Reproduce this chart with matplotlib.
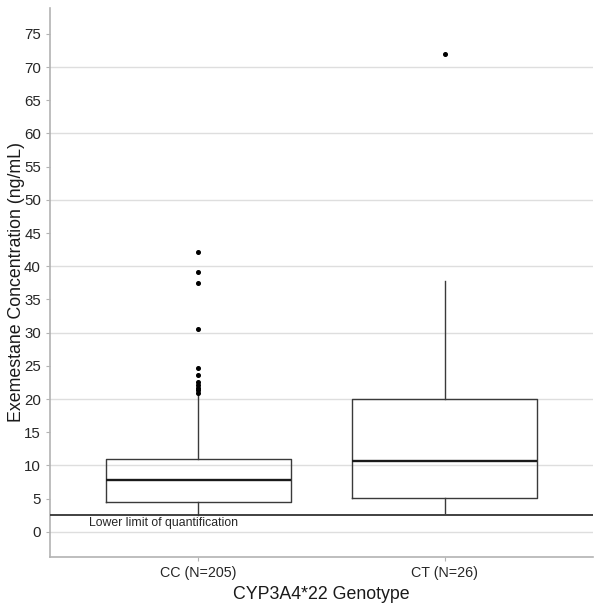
import matplotlib
matplotlib.use("Agg")
import matplotlib.pyplot as plt

plt.rcParams['font.family'] = ['Liberation Sans', 'DejaVu Sans']

# Box summary statistics (ng/mL)
groups = ["CC (N=205)", "CT (N=26)"]
q1 = [4.5, 5.1]
median = [7.8, 10.6]
q3 = [11.0, 20.0]
whisker_low = [2.6, 2.8]
whisker_high = [20.5, 37.8]
outliers = [
    [42.2, 39.1, 37.5, 30.5, 24.6, 23.6, 22.5, 22.1, 21.7, 21.3, 20.9],
    [72.0],
]
lloq = 2.5
yticks = list(range(0, 80, 5))

stats = []
for i in range(len(groups)):
    stats.append({
        "label": groups[i],
        "q1": q1[i],
        "med": median[i],
        "q3": q3[i],
        "whislo": whisker_low[i],
        "whishi": whisker_high[i],
        "fliers": outliers[i],
    })

fig = plt.figure(figsize=(6.02, 6.10), dpi=100)
ax = fig.add_axes([50 / 602, 53 / 610, 543 / 602, 549 / 610])

box_col = "#3a3a3a"
ax.bxp(stats, positions=[1, 2], widths=0.75, showcaps=False,
       boxprops=dict(color=box_col, linewidth=1.0),
       whiskerprops=dict(color=box_col, linewidth=1.0),
       medianprops=dict(color="#1a1a1a", linewidth=1.7),
       flierprops=dict(marker="o", markersize=2.6, markerfacecolor="black",
                       markeredgecolor="black"),
       zorder=3)

# lower limit of quantification
ax.axhline(lloq, color="#333333", linewidth=1.3, zorder=4)
ax.text(0.56, lloq - 0.3, "Lower limit of quantification", fontsize=8.8,
        color="#262626", ha="left", va="top")

ax.set_xlim(0.4, 2.6)
ax.set_ylim(-3.8, 78.9)
ax.set_yticks(yticks)
for y in range(0, 80, 10):
    ax.axhline(y, color="#dedede", linewidth=1.0, zorder=0)

for s in ["top", "right"]:
    ax.spines[s].set_visible(False)
for s in ["left", "bottom"]:
    ax.spines[s].set_color("#b3b3b3")
    ax.spines[s].set_linewidth(1.2)

ax.tick_params(axis="both", colors="#b3b3b3", length=3, labelcolor="#262626")
ax.tick_params(axis="x", labelsize=10.3)
ax.tick_params(axis="y", labelsize=10.8)
ax.set_xticks([1, 2])
ax.set_xticklabels(groups)

ax.set_xlabel("CYP3A4*22 Genotype", fontsize=12.8, color="#1a1a1a", labelpad=4)
ax.set_ylabel("Exemestane Concentration (ng/mL)", fontsize=12.8,
              color="#1a1a1a", labelpad=-1)

fig.savefig("out.png", dpi=100)
